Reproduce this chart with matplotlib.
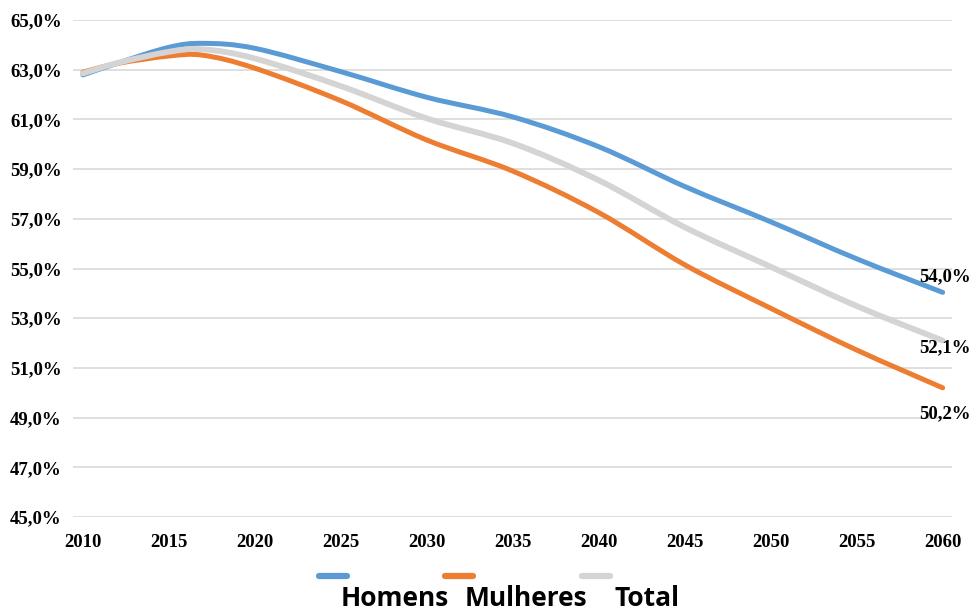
import matplotlib
matplotlib.use("Agg")
import numpy as np
from matplotlib import pyplot as plt
from matplotlib.path import Path
from matplotlib.patches import PathPatch
from matplotlib.lines import Line2D
from matplotlib.ticker import FuncFormatter

# values (%)
years = [2010, 2012, 2015, 2017, 2020, 2025, 2030, 2035, 2040, 2045, 2050, 2055, 2060]
homens = [62.79, 63.26, 63.90, 64.06, 63.86, 62.92, 61.89, 61.10, 59.90, 58.30, 56.88, 55.39, 54.04]
mulheres = [62.90, 63.25, 63.55, 63.58, 63.06, 61.75, 60.17, 58.92, 57.25, 55.15, 53.40, 51.72, 50.20]
total = [62.85, 63.27, 63.72, 63.82, 63.45, 62.34, 61.04, 60.04, 58.55, 56.66, 55.07, 53.49, 52.10]

series_names = ["Homens", "Mulheres", "Total"]
x_ticks = [2010, 2015, 2020, 2025, 2030, 2035, 2040, 2045, 2050, 2055, 2060]
y_ticks = [45, 47, 49, 51, 53, 55, 57, 59, 61, 63, 65]

colors = ["#5B9BD5", "#ED7D31", "#D4D4D4"]
widths = [3.6, 3.6, 4.2]


def smooth_path(xs, ys):
    # excel-like smoothed line: catmull-rom turned into cubic bezier segments
    pts = np.column_stack([xs, ys]).astype(float)
    verts = [pts[0]]
    codes = [Path.MOVETO]
    n = len(pts)
    for i in range(n - 1):
        p0 = pts[i - 1] if i > 0 else pts[i]
        p1 = pts[i]
        p2 = pts[i + 1]
        p3 = pts[i + 2] if i + 2 < n else pts[i + 1]
        c1 = p1 + (p2 - p0) / 6
        c2 = p2 - (p3 - p1) / 6
        verts += [c1, c2, p2]
        codes += [Path.CURVE4] * 3
    return Path(verts, codes)


fig = plt.figure(figsize=(9.73, 6.15), dpi=100)
ax = fig.add_axes([0.075, 0.1593, 0.903, 0.8082])

for data, c, lw in zip([homens, mulheres, total], colors, widths):
    patch = PathPatch(smooth_path(years, data), facecolor="none", edgecolor=c,
                      lw=lw, capstyle="round", joinstyle="round", zorder=3)
    ax.add_patch(patch)

ax.set_xlim(2009.42, 2060.52)
ax.set_ylim(45, 65)
ax.set_xticks(x_ticks)
ax.set_yticks(y_ticks)
ax.yaxis.set_major_formatter(FuncFormatter(lambda v, p: f"{v:.1f}%".replace(".", ",")))
ax.grid(axis="y", color="#d9d9d9", lw=1.2)
ax.set_axisbelow(True)
for s in ax.spines.values():
    s.set_visible(False)

ax.tick_params(length=0)
ax.tick_params(axis="y", pad=8)
ax.tick_params(axis="x", pad=12)
for lab in ax.get_xticklabels() + ax.get_yticklabels():
    lab.set_fontfamily("Liberation Serif")
    lab.set_fontweight("bold")
    lab.set_fontsize(13.5)

# end labels
for data, off in zip([homens, mulheres, total], [11, -19, -5]):
    ax.annotate(f"{data[-1]:.1f}%".replace(".", ","), (years[-1], data[-1]),
                xytext=(2, off), textcoords="offset points", ha="center", va="center",
                fontfamily="Liberation Serif", fontweight="bold", fontsize=13.5)

# legend drawn by hand to copy the layout
leg_x = [(0.328, 0.357), (0.457, 0.486), (0.598, 0.627)]
for (x0, x1), c in zip(leg_x, colors):
    fig.add_artist(Line2D([x0, x1], [0.0635, 0.0635], color=c, lw=4.5,
                          solid_capstyle="round", transform=fig.transFigure))
text_x = [0.406, 0.541, 0.665]
for name, tx in zip(series_names, text_x):
    fig.text(tx, 0.014, name, ha="center", va="baseline", fontfamily="Open Sans",
             fontweight="bold", fontsize=19)

fig.savefig("out.png", dpi=100)
